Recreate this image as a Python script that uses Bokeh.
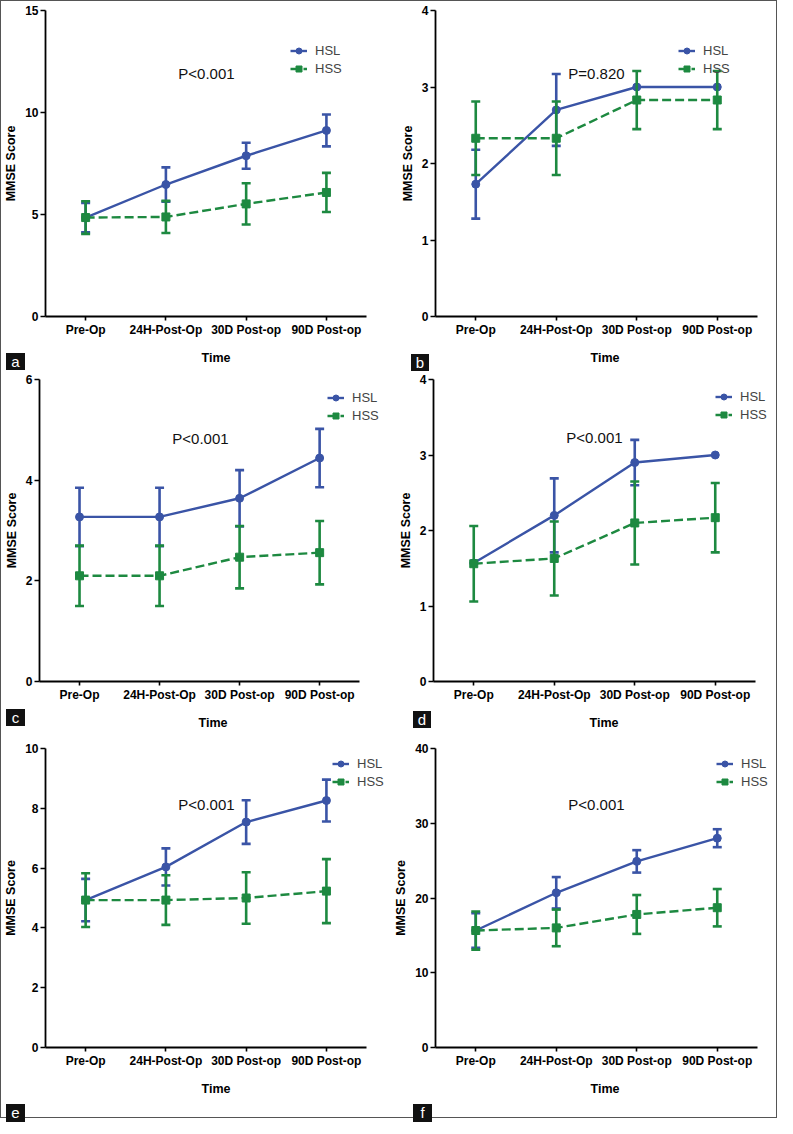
from bokeh.plotting import figure
from bokeh.models import Range1d, FixedTicker, Label, Legend, LegendItem, Div
from bokeh.layouts import column, row
from bokeh.embed import file_html
from bokeh.resources import INLINE

categories = ["Pre-Op", "24H-Post-Op", "30D Post-op", "90D Post-op"]

# Panel a
a_hsl_mean = [4.85, 6.47, 7.88, 9.12]
a_hsl_err = [0.72, 0.84, 0.64, 0.78]
a_hss_mean = [4.85, 4.88, 5.52, 6.08]
a_hss_err = [0.80, 0.79, 1.01, 0.96]
a_ticks = [0, 5, 10, 15]
a_p = "P<0.001"

# Panel b
b_hsl_mean = [1.73, 2.70, 3.00, 3.00]
b_hsl_err = [0.45, 0.47, 0.0, 0.0]
b_hss_mean = [2.33, 2.33, 2.83, 2.83]
b_hss_err = [0.48, 0.48, 0.38, 0.38]
b_ticks = [0, 1, 2, 3, 4]
b_p = "P=0.820"

# Panel c
c_hsl_mean = [3.27, 3.27, 3.64, 4.44]
c_hsl_err = [0.58, 0.58, 0.56, 0.58]
c_hss_mean = [2.10, 2.10, 2.47, 2.56]
c_hss_err = [0.60, 0.60, 0.62, 0.63]
c_ticks = [0, 2, 4, 6]
c_p = "P<0.001"

# Panel d
d_hsl_mean = [1.57, 2.20, 2.90, 3.00]
d_hsl_err = [0.0, 0.49, 0.30, 0.0]
d_hss_mean = [1.56, 1.63, 2.10, 2.17]
d_hss_err = [0.50, 0.49, 0.55, 0.46]
d_ticks = [0, 1, 2, 3, 4]
d_p = "P<0.001"

# Panel e
e_hsl_mean = [4.93, 6.04, 7.54, 8.26]
e_hsl_err = [0.71, 0.62, 0.73, 0.70]
e_hss_mean = [4.93, 4.93, 5.00, 5.23]
e_hss_err = [0.90, 0.83, 0.86, 1.07]
e_ticks = [0, 2, 4, 6, 8, 10]
e_p = "P<0.001"

# Panel f
f_hsl_mean = [15.65, 20.7, 24.9, 28.0]
f_hsl_err = [2.3, 2.1, 1.5, 1.2]
f_hss_mean = [15.65, 16.0, 17.8, 18.7]
f_hss_err = [2.55, 2.45, 2.6, 2.5]
f_ticks = [0, 10, 20, 30, 40]
f_p = "P<0.001"

panel_letters = ["a", "b", "c", "d", "e", "f"]

BLUE = "#3A54A6"
GREEN = "#1D8940"
FONT = "Liberation Sans"
AXIS_LEN = 322  # pixel length of the x axis line


def make_panel(hsl_mean, hsl_err, hss_mean, hss_err, ticks, ptext,
               width, height, left, top, bottom, leg_x, leg_y1):
    right = 2
    frame_w = width - left - right
    frame_h = height - top - bottom
    xi = list(range(len(categories)))
    x_end = -0.5 + len(categories) * frame_w / AXIS_LEN
    p = figure(width=width, height=height, x_range=Range1d(-0.5, x_end),
               y_range=Range1d(0, ticks[-1]), output_backend="svg",
               toolbar_location=None, min_border_left=left, min_border_right=right,
               min_border_top=top, min_border_bottom=bottom)
    p.outline_line_color = None
    p.xgrid.grid_line_color = None
    p.ygrid.grid_line_color = None
    p.background_fill_color = "white"
    p.border_fill_color = "white"

    p.xaxis.ticker = FixedTicker(ticks=xi, minor_ticks=[])
    p.xaxis.major_label_overrides = {i: c for i, c in zip(xi, categories)}
    p.xaxis.bounds = (-0.5, len(categories) - 0.5)
    p.yaxis.ticker = FixedTicker(ticks=ticks, minor_ticks=[])
    for ax in (p.xaxis[0], p.yaxis[0]):
        ax.axis_line_color = "black"
        ax.axis_line_width = 1.8
        ax.major_tick_line_color = "black"
        ax.major_tick_line_width = 1.6
        ax.major_tick_in = 0
        ax.minor_tick_line_color = None
        ax.major_label_text_font = FONT
        ax.major_label_text_font_style = "bold"
        ax.major_label_text_font_size = "12px"
        ax.major_label_text_color = "black"
        ax.axis_label_text_font = FONT
        ax.axis_label_text_font_style = "bold"
        ax.axis_label_text_font_size = "12.5px"
        ax.axis_label_text_color = "black"
    p.xaxis.major_tick_out = 4
    p.xaxis.major_label_standoff = 2
    p.xaxis.axis_label = "Time"
    p.xaxis.axis_label_standoff = 11
    p.yaxis.major_tick_out = 5
    p.yaxis.major_label_standoff = 2
    p.yaxis.axis_label = "MMSE Score"
    p.yaxis.axis_label_standoff = 4

    items = []
    for name, mean, err, color, marker, dash in (
            ("HSL", hsl_mean, hsl_err, BLUE, "circle", "solid"),
            ("HSS", hss_mean, hss_err, GREEN, "square", "9 4")):
        ln = p.line(xi, mean, line_color=color, line_width=2.4, line_dash=dash)
        xs = [x for x, e in zip(xi, err) if e > 0]
        up = [m + e for m, e in zip(mean, err) if e > 0]
        lo = [m - e for m, e in zip(mean, err) if e > 0]
        if xs:
            p.segment(x0=xs, y0=lo, x1=xs, y1=up, line_color=color, line_width=2.6)
            p.scatter(xs, up, marker="dash", size=9, line_color=color, line_width=2.6)
            p.scatter(xs, lo, marker="dash", size=9, line_color=color, line_width=2.6)
        mk = p.scatter(xi, mean, marker=marker, size=8, fill_color=color,
                       line_color=color)
        items.append(LegendItem(label=name, renderers=[ln, mk]))

    leg_h = 15 * 2 + 3
    vy = frame_h - (leg_y1 - 7.5) - leg_h
    legend = Legend(items=items, location=(leg_x, vy), padding=0, margin=0,
                    spacing=3, glyph_width=17, glyph_height=15, label_height=15,
                    label_standoff=8, label_text_font=FONT, label_text_font_size="13px",
                    background_fill_alpha=0, border_line_color=None)
    p.add_layout(legend)

    p.add_layout(Label(x=AXIS_LEN / 2, y=frame_h - 63, x_units="screen", y_units="screen",
                       text=ptext, text_align="center", text_baseline="middle",
                       text_font=FONT, text_font_size="15px", text_color="#111111"))
    return p


pa = make_panel(a_hsl_mean, a_hsl_err, a_hss_mean, a_hss_err, a_ticks, a_p,
                387, 366, 43, 9, 51, 245, 40)
pb = make_panel(b_hsl_mean, b_hsl_err, b_hss_mean, b_hss_err, b_ticks, b_p,
                388, 366, 47, 9, 51, 243, 40)
pc = make_panel(c_hsl_mean, c_hsl_err, c_hss_mean, c_hss_err, c_ticks, c_p,
                387, 366, 36, 12, 48, 288, 22)
pd = make_panel(d_hsl_mean, d_hsl_err, d_hss_mean, d_hss_err, d_ticks, d_p,
                388, 366, 45, 7, 52, 282, 22.7)
pe = make_panel(e_hsl_mean, e_hsl_err, e_hss_mean, e_hss_err, e_ticks, e_p,
                387, 384, 43, 15, 63, 287, 22.4)
pf = make_panel(f_hsl_mean, f_hsl_err, f_hss_mean, f_hss_err, f_ticks, f_p,
                388, 384, 47, 8, 70, 281, 22.3)

# panel letter tags (left, top, width, height) within the whole layout
tag_boxes = [(0, 347, 19, 17), (405, 348, 18, 17),
             (0, 703, 19, 17), (407, 705, 18, 17),
             (0, 1098, 19, 18), (407, 1098, 19, 18)]
tags = []
for letter, (lx, ty, bw, bh) in zip(panel_letters, tag_boxes):
    tags.append(Div(text=letter, width=bw, height=bh, styles={
        "position": "absolute", "left": f"{lx}px", "top": f"{ty}px",
        "background-color": "#111111", "color": "white",
        "font-family": FONT, "font-size": "15px", "text-align": "center",
        "line-height": f"{bh}px", "overflow": "hidden"}))

layout = column(row(pa, pb), row(pc, pd), row(pe, pf), *tags,
                styles={"border": "1px solid #555555", "position": "relative"})

open("out.html", "w").write(file_html(layout, INLINE))
